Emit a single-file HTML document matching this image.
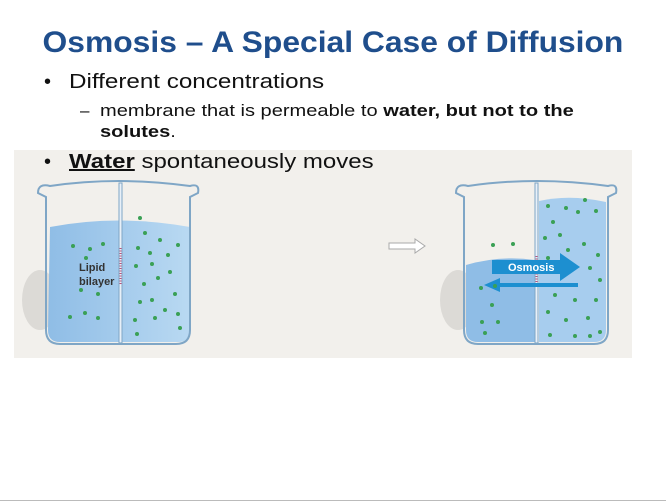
<!DOCTYPE html>
<html><head><meta charset="utf-8"><style>
body{margin:0;width:666px;height:503px;background:#fff;position:relative;overflow:hidden;font-family:"Liberation Sans","DejaVu Sans",sans-serif}
.t{position:absolute;white-space:nowrap}
.s{display:inline-block;transform-origin:0 0}
</style></head><body>
<div class="t" style="left:0;width:666px;text-align:center;top:26px;font-size:30px;font-weight:bold;color:#1f4e8c;"><span class="s" style="transform:scaleX(1.06);transform-origin:50% 0">Osmosis – A Special Case of Diffusion</span></div>
<div class="t" style="left:44px;top:71px;font-size:20px;color:#111">•<span class="s" style="position:absolute;left:25px;transform:scaleX(1.21)">Different concentrations</span></div>
<div class="t" style="left:80px;top:100px;font-size:17px;color:#111;line-height:21px">–<span class="s" style="position:absolute;left:20px;transform:scaleX(1.18)">membrane that is permeable to <b>water, but not to the</b><br><b>solutes</b>.</span></div>
<svg style="position:absolute;left:0;top:0" width="666" height="503">
<defs><linearGradient id="w" x1="0" x2="1"><stop offset="0" stop-color="#8fbde6"/><stop offset="1" stop-color="#b9d9f2"/></linearGradient></defs>
<rect x="14" y="150" width="618" height="208" fill="#f2f0ec"/>
<g>
<ellipse cx="40" cy="300" rx="18" ry="30" fill="#dcdad6"/>
<path d="M50,227 Q118,214 190,227 L190,330 Q190,342 178,342 L60,342 Q48,342 48,330 Z" fill="url(#w)"/>
<path d="M38,193 Q38,183 50,186 Q118,176 190,186 Q200,183 198,193 L190,197 L190,330 Q190,344 176,344 L60,344 Q46,344 46,330 L46,197 Z" fill="none" stroke="#7fa6c6" stroke-width="2"/>
<rect x="119" y="183" width="3" height="160" fill="#e8f0f8" stroke="#7fa6c6"/>
<line x1="120.5" y1="248" x2="120.5" y2="285" stroke="#c0507a" stroke-dasharray="1,1.5" stroke-width="2"/>
</g>
<text x="79" y="271" font-size="11" font-weight="bold" fill="#333">Lipid</text>
<text x="79" y="285" font-size="11" font-weight="bold" fill="#333">bilayer</text>
<g>
<ellipse cx="458" cy="300" rx="18" ry="30" fill="#dcdad6"/>
<path d="M466,265 Q500,255 535,260 L535,342 L478,342 Q466,342 466,330 Z" fill="#8fbde6"/>
<path d="M539,201 Q570,194 606,202 L606,330 Q606,342 594,342 L539,342 Z" fill="#a7cdee"/>
<path d="M456,193 Q456,183 468,186 Q536,176 608,186 Q618,183 616,193 L608,197 L608,330 Q608,344 594,344 L478,344 Q464,344 464,330 L464,197 Z" fill="none" stroke="#7fa6c6" stroke-width="2"/>
<rect x="535" y="183" width="3" height="160" fill="#e8f0f8" stroke="#7fa6c6"/>
<line x1="536.5" y1="256" x2="536.5" y2="288" stroke="#c0507a" stroke-dasharray="1,1.5" stroke-width="2"/>
<path d="M492,260 L560,260 L560,253 L580,267 L560,281 L560,274 L492,274 Z" fill="#1d8fd0"/>
<text x="508" y="271" font-size="11" font-weight="bold" fill="#fff">Osmosis</text>
<path d="M578,283 L500,283 L500,278 L484,285 L500,292 L500,287 L578,287 Z" fill="#1d8fd0"/>
</g>
<path d="M389,243 L415,243 L415,239 L425,246 L415,253 L415,249 L389,249 Z" fill="#fff" stroke="#aaa"/>
<g fill="#3aa055">
<circle cx="73" cy="246" r="2"/><circle cx="90" cy="249" r="2"/><circle cx="103" cy="244" r="2"/><circle cx="86" cy="258" r="2"/><circle cx="81" cy="290" r="2"/><circle cx="98" cy="294" r="2"/><circle cx="85" cy="313" r="2"/><circle cx="98" cy="318" r="2"/><circle cx="70" cy="317" r="2"/>
<circle cx="140" cy="218" r="2"/><circle cx="145" cy="233" r="2"/><circle cx="160" cy="240" r="2"/><circle cx="138" cy="248" r="2"/><circle cx="150" cy="253" r="2"/><circle cx="168" cy="255" r="2"/><circle cx="178" cy="245" r="2"/><circle cx="136" cy="266" r="2"/><circle cx="152" cy="264" r="2"/><circle cx="170" cy="272" r="2"/><circle cx="144" cy="284" r="2"/><circle cx="158" cy="278" r="2"/><circle cx="175" cy="294" r="2"/><circle cx="140" cy="302" r="2"/><circle cx="152" cy="300" r="2"/><circle cx="165" cy="310" r="2"/><circle cx="178" cy="314" r="2"/><circle cx="135" cy="320" r="2"/><circle cx="155" cy="318" r="2"/><circle cx="137" cy="334" r="2"/><circle cx="180" cy="328" r="2"/>
<circle cx="493" cy="245" r="2"/><circle cx="513" cy="244" r="2"/><circle cx="481" cy="288" r="2"/><circle cx="495" cy="286" r="2"/><circle cx="492" cy="305" r="2"/><circle cx="482" cy="322" r="2"/><circle cx="498" cy="322" r="2"/><circle cx="485" cy="333" r="2"/>
<circle cx="548" cy="206" r="2"/><circle cx="566" cy="208" r="2"/><circle cx="585" cy="200" r="2"/><circle cx="553" cy="222" r="2"/><circle cx="578" cy="212" r="2"/><circle cx="596" cy="211" r="2"/><circle cx="545" cy="238" r="2"/><circle cx="560" cy="235" r="2"/><circle cx="584" cy="244" r="2"/><circle cx="598" cy="255" r="2"/><circle cx="548" cy="258" r="2"/><circle cx="568" cy="250" r="2"/><circle cx="590" cy="268" r="2"/><circle cx="600" cy="280" r="2"/><circle cx="555" cy="295" r="2"/><circle cx="575" cy="300" r="2"/><circle cx="596" cy="300" r="2"/><circle cx="548" cy="312" r="2"/><circle cx="566" cy="320" r="2"/><circle cx="588" cy="318" r="2"/><circle cx="550" cy="335" r="2"/><circle cx="575" cy="336" r="2"/><circle cx="590" cy="336" r="2"/><circle cx="600" cy="332" r="2"/>
</g>
</svg>
<div class="t" style="left:44px;top:151px;font-size:20px;color:#111">•<span class="s" style="position:absolute;left:25px;transform:scaleX(1.2)"><b><u>Water</u></b> spontaneously moves</span></div>
<div style="position:absolute;left:0;top:500px;width:666px;height:1px;background:#bbb"></div>
</body></html>
